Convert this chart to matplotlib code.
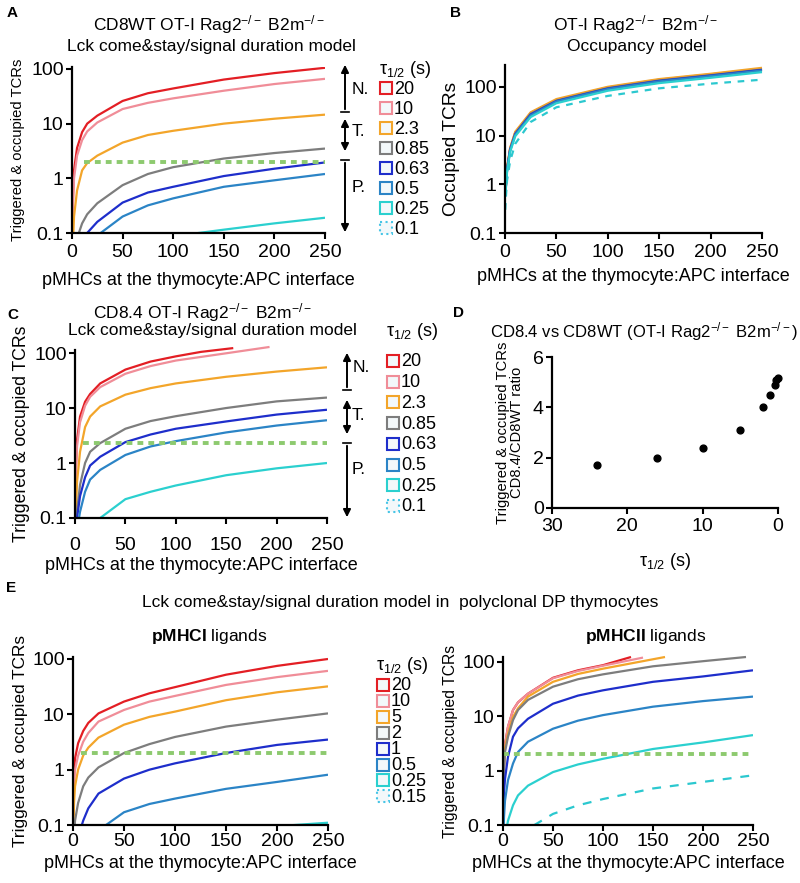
import numpy as np
import matplotlib
matplotlib.use("Agg")
import matplotlib.pyplot as plt
import matplotlib.transforms as mtransforms
from matplotlib.patches import Rectangle, FancyArrowPatch
from matplotlib.ticker import FixedLocator, FixedFormatter, NullLocator

plt.rcParams['font.family'] = ['Liberation Sans', 'DejaVu Sans']
plt.rcParams['mathtext.fontset'] = 'custom'
plt.rcParams['mathtext.rm'] = 'Liberation Sans'
plt.rcParams['mathtext.it'] = 'Liberation Sans:italic'
plt.rcParams['mathtext.bf'] = 'Liberation Sans:bold'

# ---------------- data ----------------
x_grid = [0.5, 1, 2, 5, 10, 15, 25, 50, 75, 100, 150, 200, 250]

# A: CD8WT OT-I, Lck come&stay model
tau_A = ["20", "10", "2.3", "0.85", "0.63", "0.5", "0.25", "0.1"]
A_20 = [0.15, 0.5, 1.4, 3.6, 7.0, 10, 14, 26, 36, 44, 64, 84, 105]
A_10 = [0.1, 0.35, 1.0, 2.6, 5.0, 7.2, 10.5, 18.5, 24, 29, 40, 53, 66]
A_23 = [0.03, 0.07, 0.2, 0.6, 1.4, 1.9, 2.6, 4.5, 6.2, 7.4, 10, 12.3, 14.6]
A_085 = [0.01, 0.02, 0.04, 0.08, 0.15, 0.22, 0.35, 0.75, 1.2, 1.6, 2.3, 2.9, 3.5]
A_063 = [0.005, 0.01, 0.02, 0.04, 0.07, 0.1, 0.16, 0.36, 0.55, 0.7, 1.1, 1.5, 1.95]
A_05 = [0.002, 0.005, 0.01, 0.02, 0.04, 0.06, 0.09, 0.2, 0.32, 0.43, 0.7, 0.92, 1.2]
A_025 = [0.001, 0.002, 0.004, 0.008, 0.015, 0.02, 0.03, 0.05, 0.07, 0.087, 0.115, 0.15, 0.19]
A_01 = [0.0005, 0.001, 0.002, 0.003, 0.005, 0.007, 0.01, 0.018, 0.025, 0.03, 0.04, 0.05, 0.06]
thr_A = 2.0

# B: occupancy model
x_B = [0.25, 1, 2, 5, 10, 25, 50, 100, 150, 200, 250]
B_20 = [0.6, 1.0, 2.1, 5.4, 11.5, 29, 54, 97, 140, 180, 235]
B_10 = [0.6, 1.0, 2.0, 5.3, 11.3, 28, 53, 95, 137, 176, 230]
B_23 = [0.6, 1.1, 2.2, 5.6, 12, 30, 56, 100, 144, 185, 245]
B_085 = [0.6, 1.0, 2.0, 5.2, 11, 28, 52, 94, 135, 173, 226]
B_063 = [0.6, 1.0, 2.0, 5.1, 10.8, 27, 51, 92, 132, 170, 222]
B_05 = [0.6, 1.0, 1.9, 5.0, 10.5, 26, 50, 90, 129, 166, 216]
B_025 = [0.55, 0.9, 1.8, 4.6, 9.7, 24, 46, 83, 119, 153, 200]
B_01 = [0.3, 0.6, 1.2, 3.0, 6.8, 19, 38, 65, 93, 116, 140]

# C: CD8.4 OT-I, Lck come&stay model
C_20_x = [0.5, 1, 2, 5, 10, 15, 25, 50, 75, 100, 125, 157]
C_20 = [0.3, 1.0, 2.6, 7.0, 13, 18, 28, 50, 70, 87, 105, 123]
C_10_x = [0.5, 1, 2, 5, 10, 15, 25, 50, 75, 100, 150, 193]
C_10 = [0.2, 0.7, 2.0, 5.5, 11, 16, 24, 42, 58, 73, 99, 129]
C_23 = [0.06, 0.15, 0.45, 1.6, 4.5, 7, 10.7, 17.5, 23, 28, 37, 46, 55]
C_085 = [0.02, 0.05, 0.13, 0.4, 1.0, 1.6, 2.3, 4.2, 5.8, 7.1, 10, 13.2, 15.5]
C_063 = [0.01, 0.03, 0.1, 0.25, 0.55, 0.9, 1.3, 2.4, 3.3, 4.2, 5.7, 7.6, 9.3]
C_05 = [0.01, 0.02, 0.06, 0.13, 0.3, 0.5, 0.75, 1.4, 2.0, 2.5, 3.6, 4.8, 6.0]
C_025 = [0.001, 0.003, 0.008, 0.02, 0.04, 0.06, 0.1, 0.22, 0.3, 0.39, 0.6, 0.8, 1.0]
C_01 = [0.0005, 0.001, 0.002, 0.004, 0.008, 0.01, 0.02, 0.035, 0.045, 0.055, 0.07, 0.08, 0.09]
thr_C = 2.3

# D: ratio CD8.4 / CD8WT
tau_D = [24, 16, 10, 5.1, 2.0, 1.1, 0.45, 0.2, 0.05]
ratio_D = [1.7, 2.0, 2.37, 3.09, 4.0, 4.5, 4.9, 5.08, 5.18]

# E: polyclonal DP thymocytes
tau_E = ["20", "10", "5", "2", "1", "0.5", "0.25", "0.15"]
EI_20 = [0.3, 0.8, 1.6, 3.0, 5.0, 7.0, 10.4, 17, 24, 31, 52, 75, 100]
EI_10 = [0.15, 0.5, 1.0, 1.8, 3.2, 4.6, 7.4, 12, 17, 21.5, 34, 47, 61]
EI_5 = [0.1, 0.25, 0.5, 1.0, 1.8, 2.5, 3.8, 6.5, 9, 11.2, 18, 25, 32]
EI_2 = [0.03, 0.06, 0.12, 0.25, 0.5, 0.72, 1.1, 2.0, 2.9, 3.9, 6.0, 8.0, 10.4]
EI_1 = [0.005, 0.01, 0.03, 0.06, 0.12, 0.2, 0.37, 0.69, 1.0, 1.3, 2.0, 2.8, 3.5]
EI_05 = [0.001, 0.003, 0.006, 0.015, 0.03, 0.05, 0.08, 0.17, 0.24, 0.3, 0.45, 0.6, 0.81]
EI_025 = [0.0005, 0.001, 0.002, 0.004, 0.008, 0.01, 0.015, 0.025, 0.035, 0.045, 0.065, 0.095, 0.11]
EI_015 = [0.0002, 0.0005, 0.001, 0.002, 0.004, 0.005, 0.007, 0.012, 0.016, 0.02, 0.03, 0.04, 0.05]
thr_EI = 2.0

EII_20_x = [0.5, 1, 2, 5, 10, 15, 25, 50, 75, 100, 128]
EII_20 = [0.5, 1.3, 3.0, 6.4, 13, 18, 26, 51, 70, 87, 123]
EII_10_x = [0.5, 1, 2, 5, 10, 15, 25, 50, 75, 100, 140]
EII_10 = [0.5, 1.3, 3.0, 6.4, 13, 18, 26, 50, 68, 85, 120]
EII_5_x = [0.5, 1, 2, 5, 10, 15, 25, 50, 75, 100, 162]
EII_5 = [0.45, 1.2, 2.6, 4.8, 9.7, 14, 23, 43, 60, 75, 123]
EII_2_x = [0.5, 1, 2, 5, 10, 15, 25, 50, 75, 100, 150, 200, 243]
EII_2 = [0.4, 1.0, 2.2, 4.2, 8.5, 13, 20, 35, 48, 59, 83, 103, 123]
EII_1 = [0.2, 0.4, 0.7, 1.8, 4.2, 6, 9, 17, 24, 30, 43, 54, 70]
EII_05 = [0.07, 0.14, 0.28, 0.67, 1.35, 2.2, 3.4, 5.9, 8.3, 10.5, 15, 19, 23]
EII_025 = [0.02, 0.04, 0.06, 0.12, 0.23, 0.35, 0.53, 0.94, 1.3, 1.65, 2.5, 3.3, 4.5]
EII_015 = [0.005, 0.01, 0.02, 0.035, 0.05, 0.06, 0.085, 0.16, 0.23, 0.3, 0.47, 0.62, 0.82]
thr_EII = 2.05

colors = ['#e31e24', '#f08d98', '#f3a52a', '#7d7d7d', '#1e2ecb', '#2b84c6', '#2bd0cf', '#46c5e6']
styles = ['-'] * 7 + [':']

# ---------------- figure in pixel coordinates ----------------
W, H = 800, 883
fig = plt.figure(figsize=(W / 100, H / 100), dpi=100)
px = mtransforms.Affine2D().scale(1.0 / W, -1.0 / H).translate(0, 1) + fig.transFigure
FS = 12.5
TFS = 14


def axes_px(l, t, r, b):
    return fig.add_axes([l / W, 1 - b / H, (r - l) / W, (b - t) / H])


def text_px(x, y, s, **kw):
    kw.setdefault('fontsize', FS)
    kw.setdefault('ha', 'center')
    kw.setdefault('va', 'center')
    fig.text(x, y, s, transform=px, **kw)


def style_axes(ax, xpad=3):
    for sp in ['top', 'right']:
        ax.spines[sp].set_visible(False)
    for sp in ['left', 'bottom']:
        ax.spines[sp].set_linewidth(1.6)
    ax.tick_params(width=1.5, length=4, labelsize=TFS, pad=2)
    ax.tick_params(axis='x', pad=xpad)


def log_axes(ax, ytop, xpad=3, xlabelpad=3):
    ax.set_yscale('log')
    ax.set_ylim(0.1, ytop)
    ax.set_xlim(0, 250)
    ax.yaxis.set_major_locator(FixedLocator([0.1, 1, 10, 100]))
    ax.yaxis.set_major_formatter(FixedFormatter(['0.1', '1', '10', '100']))
    ax.yaxis.set_minor_locator(NullLocator())
    ax.set_xticks([0, 50, 100, 150, 200, 250])
    style_axes(ax, xpad)
    ax.set_xlabel('pMHCs at the thymocyte:APC interface', fontsize=13, labelpad=xlabelpad)


def curves(ax, xs, ys):
    for xx, yy, c, ls in zip(xs, ys, colors, styles):
        ax.plot(xx, yy, color=c, ls=ls, lw=1.6, clip_on=False if max(yy) > 110 else True,
                solid_capstyle='butt')


def threshold(ax, x0, y):
    ax.plot([x0, 250], [y, y], color='#8dca6f', lw=2.8, dashes=(1.5, 1.3))


def legend_px(x, ty, y0, dy, labels):
    text_px(x, ty, r'τ$_{1/2}$ (s)', ha='left', fontsize=13)
    for i, (lab, c, s) in enumerate(zip(labels, colors, styles)):
        yc = y0 + i * dy
        fig.add_artist(Rectangle((x + 1, yc - 6), 12, 12, transform=px, facecolor='#f3f8fa',
                                 edgecolor=c, lw=1.5, ls=('-' if s == '-' else ':')))
        text_px(x + 15, yc + 1, lab, ha='left', fontsize=13)


def arrow_px(x, y0, y1, style):
    fig.add_artist(FancyArrowPatch((x, y0), (x, y1), transform=px, arrowstyle=style,
                                   mutation_scale=11, lw=1.4, color='black'))


def bar_px(x, y):
    fig.add_artist(plt.Line2D([x - 4, x + 4], [y, y], transform=px, color='black', lw=1.2))


wt = r'Rag2$^{-/-}$ B2m$^{-/-}$'

# ---- A ----
axA = axes_px(72, 66.7, 325, 233)
log_axes(axA, 110, xpad=4, xlabelpad=8)
curves(axA, [x_grid] * 8, [A_20, A_10, A_23, A_085, A_063, A_05, A_025, A_01])
threshold(axA, 12, thr_A)
axA.set_ylabel('Triggered & occupied TCRs', fontsize=10.6, labelpad=4)
text_px(209, 25, 'CD8WT OT-I ' + wt)
text_px(211, 46, 'Lck come&stay/signal duration model')
legend_px(379, 70, 88, 20, tau_A)
arrow_px(345, 112, 62, '-|>'); bar_px(345, 112)
arrow_px(345, 116, 154, '<|-|>')
arrow_px(345, 160, 235, '-|>'); bar_px(345, 160)
text_px(352, 90, 'N.', ha='left')
text_px(352, 132, 'T.', ha='left')
text_px(352, 187, 'P.', ha='left')

# ---- B ----
axB = axes_px(505, 65, 762, 233)
log_axes(axB, 280, xpad=4, xlabelpad=5)
curves(axB, [x_B] * 8, [B_20, B_10, B_23, B_085, B_063, B_05, B_025, B_01])
axB.lines[-1].set_linestyle((0, (3, 3)))
axB.lines[-1].set_color('#2bc8cf')
axB.set_ylabel('Occupied TCRs', fontsize=13.8, labelpad=3)
text_px(636, 25, 'OT-I ' + wt)
text_px(637, 47, 'Occupancy model')

# ---- C ----
axC = axes_px(75, 349.7, 327, 518)
log_axes(axC, 115, xpad=10, xlabelpad=2)
curves(axC, [C_20_x, C_10_x] + [x_grid] * 6, [C_20, C_10, C_23, C_085, C_063, C_05, C_025, C_01])
threshold(axC, 8, thr_C)
axC.set_ylabel('Triggered & occupied TCRs', fontsize=12.7, labelpad=3)
text_px(203, 313, 'CD8.4 OT-I ' + wt)
text_px(212, 330, 'Lck come&stay/signal duration model')
legend_px(386, 332, 361, 20.7, tau_A)
arrow_px(347, 390, 350, '-|>'); bar_px(347, 390)
arrow_px(347, 397, 437, '<|-|>')
arrow_px(347, 443, 520, '-|>'); bar_px(347, 443)
text_px(353, 368, 'N.', ha='left')
text_px(352, 415, 'T.', ha='left')
text_px(352, 470, 'P.', ha='left')

# ---- D ----
axD = axes_px(552, 357, 778, 508)
axD.scatter(tau_D, ratio_D, s=24, color='black', zorder=3, clip_on=False)
axD.set_xlim(30, 0)
axD.set_ylim(0, 6)
axD.set_xticks([30, 20, 10, 0])
axD.set_yticks([0, 2, 4, 6])
style_axes(axD, xpad=3)
axD.set_ylabel('Triggered & occupied TCRs\nCD8.4/CD8WT ratio', fontsize=10.6, labelpad=6,
               linespacing=1.05)
axD.set_xlabel(r'τ$_{1/2}$ (s)', fontsize=13, labelpad=12)
text_px(644, 332, 'CD8.4 vs CD8WT (OT-I ' + wt + ')', fontsize=12)

# ---- E ----
text_px(400, 602, 'Lck come&stay/signal duration model in  polyclonal DP thymocytes')
axE1 = axes_px(73, 656.7, 328, 825)
log_axes(axE1, 110, xpad=2, xlabelpad=3)
curves(axE1, [x_grid] * 8, [EI_20, EI_10, EI_5, EI_2, EI_1, EI_05, EI_025, EI_015])
threshold(axE1, 8, thr_EI)
axE1.set_ylabel('Triggered & occupied TCRs', fontsize=12.4, labelpad=3)
text_px(209, 637, r'$\mathbf{pMHCI}$ ligands')
legend_px(376, 666, 685, 15.9, tau_E)

axE2 = axes_px(503, 657, 753, 825)
log_axes(axE2, 123, xpad=2, xlabelpad=3)
curves(axE2, [EII_20_x, EII_10_x, EII_5_x, EII_2_x] + [x_grid] * 4,
       [EII_20, EII_10, EII_5, EII_2, EII_1, EII_05, EII_025, EII_015])
axE2.lines[-1].set_linestyle((0, (4, 4)))
axE2.lines[-1].set_color('#2bc8cf')
threshold(axE2, 0, thr_EII)
axE2.set_ylabel('Triggered & occupied TCRs', fontsize=11.3, labelpad=3)
text_px(646, 637, r'$\mathbf{pMHCII}$ ligands')

# panel letters
for lab, (x, y) in zip('ABCDE', [(7, 13), (450, 13), (7, 315), (453, 313), (6, 588)]):
    text_px(x, y, lab, fontsize=11, fontweight='bold', ha='left')

fig.savefig('out.png', dpi=100)
